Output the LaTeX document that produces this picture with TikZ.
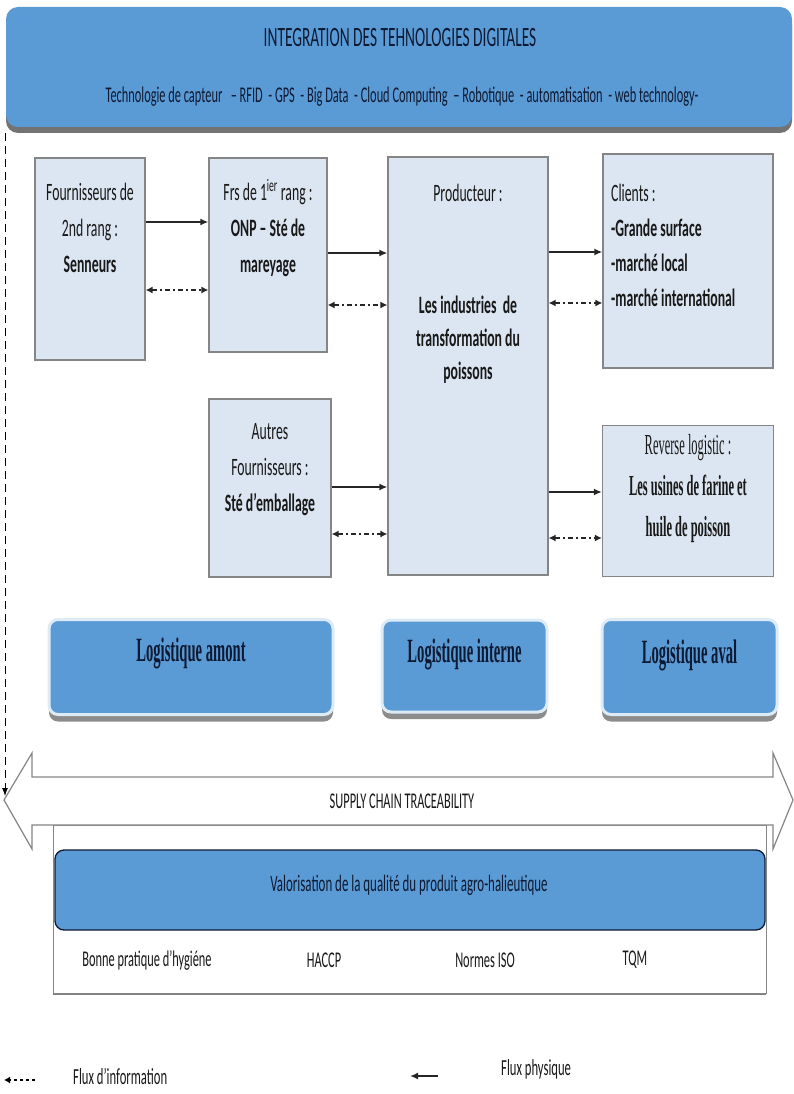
\documentclass[tikz,border=0pt]{standalone}
\usepackage{fontspec}
\setmainfont{Carlito}[FakeStretch=0.55]
\newfontfamily\timesfont{Liberation Serif}[FakeStretch=0.43]
\usepackage{xcolor}
\usepackage{tikz}
\usetikzlibrary{arrows.meta,positioning,shadows}

\definecolor{bandblue}{HTML}{5B9BD5}
\definecolor{rimblue}{HTML}{DDEBF7}
\definecolor{boxfill}{HTML}{DCE6F2}
\definecolor{boxline}{HTML}{858585}
\definecolor{navy}{HTML}{0E1A33}

\tikzset{
  actor/.style={draw=boxline, fill=boxfill, line width=1.2pt, inner sep=0pt},
  txt/.style={font=\fontsize{25}{36}\selectfont, align=center, inner sep=0pt, text=black!90},
  phys/.style={-{Latex[length=8pt,width=7pt]}, line width=1.8pt, black!85},
  info/.style={{Latex[length=7pt,width=7pt]}-{Latex[length=7pt,width=7pt]}, line width=1.6pt, black!85,
    dash pattern=on 5pt off 3pt on 2pt off 3pt},
  logbox/.style={fill=bandblue, draw=rimblue, line width=3pt, rounded corners=9pt, inner sep=0pt,
    drop shadow={shadow xshift=0pt, shadow yshift=-7pt, fill=black!45, opacity=1}},
  logtxt/.style={font=\timesfont\bfseries\fontsize{34}{36}\selectfont, text=navy, inner sep=0pt}
}

\begin{document}
\begin{tikzpicture}[x=1pt, y=-1pt]
  \useasboundingbox (0,0) rectangle (794,1094);

  % Banner
  \node[fill=bandblue, rounded corners=12pt, minimum width=786pt, minimum height=120pt,
        drop shadow={shadow xshift=0pt, shadow yshift=-6pt, fill=black!55, opacity=1}] (banner) at (399,67) {};
  \node[font=\fontsize{28}{30}\selectfont, text=navy] (title) at (400,38) {INTEGRATION DES TEHNOLOGIES DIGITALES};
  \node[font=\fontsize{22.5}{24}\selectfont, text=navy] (techs) at (402,97)
    {Technologie de capteur~~~– RFID~~- GPS~~- Big Data~~- Cloud Computing~~– Robotique~~- automatisation~~- web technology-};

  % Actors
  \node[actor, minimum width=110pt, minimum height=202pt] (sup2) at (90,259) {};
  \node[actor, minimum width=118pt, minimum height=194pt] (sup1) at (268,255) {};
  \node[actor, minimum width=160pt, minimum height=418pt] (prod) at (468,366) {};
  \node[actor, minimum width=170pt, minimum height=214pt] (cli) at (688,261) {};
  \node[actor, minimum width=122pt, minimum height=178pt] (aut) at (270,488) {};
  \node[actor, minimum width=171pt, minimum height=151pt] (rev) at (688,501) {};

  \node[txt] (sup2txt) at (90,228) {Fournisseurs de\\2nd rang :\\\textbf{Senneurs}};
  \node[txt] (sup1txt) at (268,228) {Frs de 1\textsuperscript{ier} rang :\\\textbf{ONP – Sté de}\\\textbf{mareyage}};
  \node[txt] (prodhead) at (468,193) {Producteur :};
  \node[txt, font=\bfseries\fontsize{25}{33}\selectfont] (prodtxt) at (468,340) {Les industries~ de\\transformation du\\poissons};
  \node[txt, font=\fontsize{25}{35}\selectfont, align=left, anchor=west] (clitxt) at (611,245)
    {Clients :\\\textbf{-Grande surface}\\\textbf{-marché local}\\\textbf{-marché international}};
  \node[txt] (auttxt) at (270,470) {Autres\\Fournisseurs :\\\textbf{Sté d’emballage}};
  \node[txt, font=\timesfont\fontsize{29}{41}\selectfont] (revtxt) at (688,489)
    {Reverse logistic :\\\textbf{Les usines de farine et}\\\textbf{huile de poisson}};

  % Flows
  \draw[phys] (sup2.east |- 0,222) -- (sup1.west |- 0,222);
  \draw[info] (sup2.east |- 0,290) -- (sup1.west |- 0,290);
  \draw[phys] (sup1.east |- 0,253) -- (prod.west |- 0,253);
  \draw[info] (sup1.east |- 0,305) -- (prod.west |- 0,305);
  \draw[phys] (prod.east |- 0,252) -- (cli.west |- 0,252);
  \draw[info] (prod.east |- 0,303) -- (cli.west |- 0,303);
  \draw[phys] (aut.east |- 0,487) -- (prod.west |- 0,487);
  \draw[info] (aut.east |- 0,534) -- (prod.west |- 0,534);
  \draw[phys] (prod.east |- 0,492) -- (rev.west |- 0,492);
  \draw[info] (prod.east |- 0,538) -- (rev.west |- 0,538);

  % Logistics
  \node[logbox, minimum width=284pt, minimum height=95pt] (amont) at (191,667) {};
  \node[logbox, minimum width=165pt, minimum height=92pt] (interne) at (464.5,666) {};
  \node[logbox, minimum width=175pt, minimum height=95pt] (aval) at (689.5,667) {};
  \node[logtxt] (amonttxt) at (191,653) {Logistique amont};
  \node[logtxt] (internetxt) at (464.5,654) {Logistique interne};
  \node[logtxt] (avaltxt) at (689.5,655) {Logistique aval};

  % Quality
  \node[draw=boxline, fill=white, line width=1pt, minimum width=713pt, minimum height=168pt,
        drop shadow={shadow xshift=0pt, shadow yshift=-2pt, fill=black!50, opacity=1}] (qual) at (409.5,909) {};
  \node[fill=bandblue, draw=navy, line width=1.3pt, rounded corners=9pt,
        minimum width=710pt, minimum height=80pt] (valo) at (410,890) {};
  \node[txt, font=\fontsize{23.5}{26}\selectfont, text=navy] (valotxt) at (409,885)
    {Valorisation de la qualité du produit agro-halieutique};
  \foreach \nm/\px/\lbl in {bph/147/Bonne pratique d’hygiéne, haccp/324/HACCP, iso/485/Normes ISO, tqm/635/TQM}
    \node[txt, font=\fontsize{22.5}{24}\selectfont] (\nm) at (\px,960) {\lbl};

  % Traceability
  \draw[boxline, line width=1.2pt, fill=white] (4,800) -- (32,753) -- (32,777) -- (773,777) -- (773,753)
    -- (793,800) -- (773,849) -- (773,825) -- (32,825) -- (32,849) -- cycle;
  \node[txt, font=\fontsize{22.5}{24}\selectfont] (trace) at (402,801) {SUPPLY CHAIN TRACEABILITY};

  % Information link
  \coordinate (dtop) at (5,133);
  \coordinate (dbot) at (5,796);
  \draw[dashed, dash pattern=on 8pt off 5pt, line width=1pt, -{Latex[length=8pt,width=6pt]}] (dtop) -- (dbot);

  % Legend
  \coordinate (infoA) at (35,1080);
  \coordinate (infoB) at (4,1080);
  \draw[line width=2pt, dash pattern=on 3pt off 3pt, -{Latex[length=6pt,width=7pt]}] (infoA) -- (infoB);
  \node[txt, font=\fontsize{23}{26}\selectfont, anchor=west] (infolab) at (73,1076) {Flux d’information};
  \coordinate (physA) at (438,1076);
  \coordinate (physB) at (410,1076);
  \draw[phys] (physA) -- (physB);
  \node[txt, font=\fontsize{23}{26}\selectfont, anchor=west] (physlab) at (501,1069) {Flux physique};
\end{tikzpicture}
\end{document}
